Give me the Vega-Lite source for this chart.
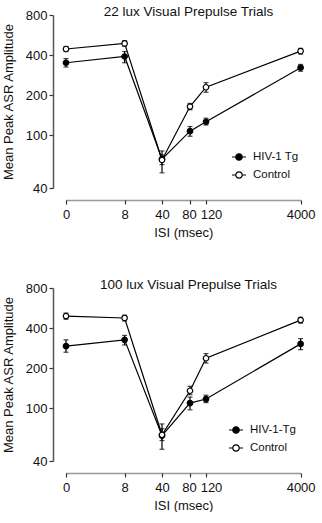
{
  "$schema": "https://vega.github.io/schema/vega-lite/v6.json",
  "padding": {"left": 2, "top": 4, "right": 0, "bottom": 0},
  "datasets": {
    "lux22": [
      {"isi": 0, "group": "HIV-1 Tg", "mean": 350, "lo": 325, "hi": 376},
      {"isi": 8, "group": "HIV-1 Tg", "mean": 390, "lo": 350, "hi": 425},
      {"isi": 40, "group": "HIV-1 Tg", "mean": 66, "lo": 52, "hi": 76},
      {"isi": 80, "group": "HIV-1 Tg", "mean": 107, "lo": 98, "hi": 116},
      {"isi": 120, "group": "HIV-1 Tg", "mean": 126, "lo": 119, "hi": 134},
      {"isi": 4000, "group": "HIV-1 Tg", "mean": 321, "lo": 302, "hi": 340},
      {"isi": 0, "group": "Control", "mean": 444, "lo": 425, "hi": 464},
      {"isi": 8, "group": "Control", "mean": 489, "lo": 466, "hi": 512},
      {"isi": 40, "group": "Control", "mean": 65, "lo": 60, "hi": 71},
      {"isi": 80, "group": "Control", "mean": 164, "lo": 155, "hi": 173},
      {"isi": 120, "group": "Control", "mean": 229, "lo": 210, "hi": 248},
      {"isi": 4000, "group": "Control", "mean": 428, "lo": 407, "hi": 449}
    ],
    "lux100": [
      {"isi": 0, "group": "HIV-1-Tg", "mean": 292, "lo": 263, "hi": 326},
      {"isi": 8, "group": "HIV-1-Tg", "mean": 326, "lo": 298, "hi": 352},
      {"isi": 40, "group": "HIV-1-Tg", "mean": 62, "lo": 49, "hi": 76},
      {"isi": 80, "group": "HIV-1-Tg", "mean": 109, "lo": 97, "hi": 121},
      {"isi": 120, "group": "HIV-1-Tg", "mean": 117, "lo": 110, "hi": 125},
      {"isi": 4000, "group": "HIV-1-Tg", "mean": 304, "lo": 275, "hi": 333},
      {"isi": 0, "group": "Control", "mean": 492, "lo": 466, "hi": 518},
      {"isi": 8, "group": "Control", "mean": 476, "lo": 452, "hi": 500},
      {"isi": 40, "group": "Control", "mean": 63, "lo": 57, "hi": 70},
      {"isi": 80, "group": "Control", "mean": 135, "lo": 126, "hi": 146},
      {"isi": 120, "group": "Control", "mean": 237, "lo": 218, "hi": 257},
      {"isi": 4000, "group": "Control", "mean": 459, "lo": 436, "hi": 482}
    ]
  },
  "vconcat": [
    {
      "data": {"name": "lux22"},
      "width": 235,
      "height": 173,
      "title": {"text": "22 lux Visual Prepulse Trials"},
      "encoding": {
        "x": {
          "field": "isi", "type": "quantitative",
          "scale": {"type": "linear", "domain": [0, 8, 40, 80, 120, 4000], "range": [0, 58.6, 96, 124, 140, 234.6], "nice": false, "zero": false},
          "axis": {"title": "ISI (msec)", "values": [0, 8, 40, 80, 120, 4000], "format": "d", "offset": 12}
        }
      },
      "layer": [
        {
          "mark": {"type": "line", "color": "black", "strokeWidth": 1.2},
          "encoding": {
            "y": {"field": "mean", "type": "quantitative", "title": "Mean Peak ASR Amplitude",
              "scale": {"type": "log", "domain": [40, 800], "nice": false},
              "axis": {"values": [40, 100, 200, 400, 800], "format": "d", "offset": 13}},
            "detail": {"field": "group"}
          }
        },
        {
          "mark": {"type": "errorbar", "color": "black", "thickness": 1.2, "ticks": {"size": 5, "thickness": 1.2}},
          "encoding": {
            "y": {"field": "lo", "type": "quantitative", "title": "Mean Peak ASR Amplitude"},
            "y2": {"field": "hi"},
            "detail": {"field": "group"}
          }
        },
        {
          "mark": {"type": "point", "shape": "circle", "filled": true, "size": 30, "stroke": "black", "strokeWidth": 1.2, "opacity": 1},
          "encoding": {
            "y": {"field": "mean", "type": "quantitative", "title": "Mean Peak ASR Amplitude"},
            "fill": {"field": "group", "type": "nominal",
              "scale": {"domain": ["HIV-1 Tg", "Control"], "range": ["black", "white"]},
              "legend": {"title": null, "orient": "none", "legendX": 165, "legendY": 134}}
          }
        }
      ]
    },
    {
      "data": {"name": "lux100"},
      "width": 235,
      "height": 173,
      "title": {"text": "100 lux Visual Prepulse Trials"},
      "encoding": {
        "x": {
          "field": "isi", "type": "quantitative",
          "scale": {"type": "linear", "domain": [0, 8, 40, 80, 120, 4000], "range": [0, 58.6, 96, 124, 140, 234.6], "nice": false, "zero": false},
          "axis": {"title": "ISI (msec)", "values": [0, 8, 40, 80, 120, 4000], "format": "d", "offset": 12}
        }
      },
      "layer": [
        {
          "mark": {"type": "line", "color": "black", "strokeWidth": 1.2},
          "encoding": {
            "y": {"field": "mean", "type": "quantitative", "title": "Mean Peak ASR Amplitude",
              "scale": {"type": "log", "domain": [40, 800], "nice": false},
              "axis": {"values": [40, 100, 200, 400, 800], "format": "d", "offset": 13}},
            "detail": {"field": "group"}
          }
        },
        {
          "mark": {"type": "errorbar", "color": "black", "thickness": 1.2, "ticks": {"size": 5, "thickness": 1.2}},
          "encoding": {
            "y": {"field": "lo", "type": "quantitative", "title": "Mean Peak ASR Amplitude"},
            "y2": {"field": "hi"},
            "detail": {"field": "group"}
          }
        },
        {
          "mark": {"type": "point", "shape": "circle", "filled": true, "size": 30, "stroke": "black", "strokeWidth": 1.2, "opacity": 1},
          "encoding": {
            "y": {"field": "mean", "type": "quantitative", "title": "Mean Peak ASR Amplitude"},
            "fill": {"field": "group", "type": "nominal",
              "scale": {"domain": ["HIV-1-Tg", "Control"], "range": ["black", "white"]},
              "legend": {"title": null, "orient": "none", "legendX": 162, "legendY": 134}}
          }
        }
      ]
    }
  ],
  "resolve": {"scale": {"fill": "independent"}, "legend": {"fill": "independent"}},
  "spacing": 38,
  "config": {
    "font": "Liberation Sans",
    "view": {"stroke": null},
    "title": {"fontSize": 13.5, "fontWeight": "normal", "color": "#111", "anchor": "middle", "frame": "group", "baseline": "alphabetic", "offset": -9, "dx": 5},
    "axis": {
      "grid": false,
      "labelFont": "Liberation Sans", "labelFontSize": 13, "labelColor": "#111",
      "titleFont": "Liberation Sans", "titleFontSize": 13, "titleFontWeight": "normal", "titleColor": "#111",
      "tickColor": "#333", "tickSize": 4, "tickWidth": 1.2,
      "domainColor": "#555", "domainWidth": 1.5,
      "labelOverlap": false
    },
    "axisX": {
      "labelPadding": 4, "titlePadding": 5, "domainDash": [1, 1], "domainColor": "#333", "labelFlush": false,
      "labelOffset": {"condition": [{"test": "datum.value == 120", "value": 5}, {"test": "datum.value == 80", "value": -1}], "value": 0}
    },
    "axisY": {"labelPadding": 2, "titlePadding": 10},
    "legend": {
      "labelFont": "Liberation Sans", "labelFontSize": 11.5, "labelColor": "#111",
      "symbolType": "M-1,0L-0.46,0A0.46,0.46,0,1,1,0.46,0A0.46,0.46,0,1,1,-0.46,0ZM0.46,0L1,0",
      "symbolSize": 196, "symbolStrokeColor": "black", "symbolStrokeWidth": 1.2,
      "rowPadding": 4, "labelOffset": 6
    }
  }
}
